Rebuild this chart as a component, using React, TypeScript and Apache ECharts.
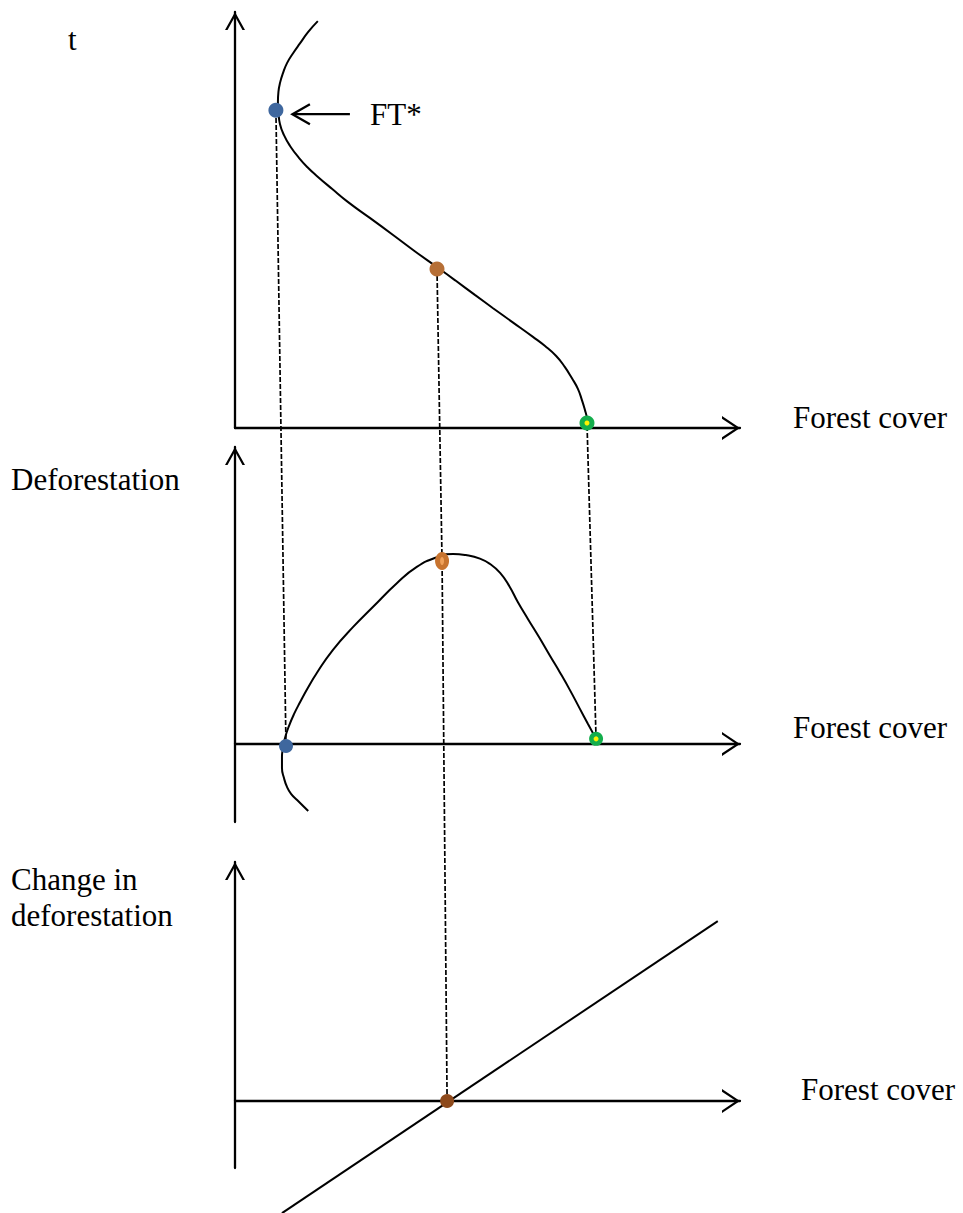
import { useEffect, useRef } from "react";
import * as echarts from "echarts";

// ---------- data ----------
// Panel 1: forest cover (x, 0..100) against time t (y, 0..100)
const timePathX = [16.4, 14.5, 12.9, 11.5, 10.3, 9.5, 8.9, 8.6, 8.5, 8.6, 8.9, 9.7, 10.9, 12.7, 14.5, 16.2, 19.2, 22.4, 26.7, 31.3, 35.6, 40.2, 43.6, 47.5, 51.1, 55.0, 59.0, 61.4, 63.6, 65.3, 66.7, 67.9, 68.7, 69.3, 69.7, 69.8];
const timePathT = [97.8, 95.2, 92.5, 90.1, 87.7, 85.3, 82.9, 80.8, 78.4, 76.0, 73.1, 70.4, 67.8, 64.9, 62.5, 60.6, 57.5, 54.3, 50.5, 46.4, 42.5, 38.5, 35.5, 32.0, 28.8, 25.4, 21.9, 19.7, 17.3, 14.7, 12.0, 9.4, 6.7, 4.3, 2.4, 1.0];

// Panel 2: deforestation against forest cover
const defoX = [14.5, 12.3, 11.1, 10.3, 9.7, 9.3, 9.3, 9.5, 9.9, 10.7, 11.7, 12.9, 14.3, 16.2, 19.4, 23.4, 27.3, 32.1, 36.0, 40.0, 43.2, 45.7, 48.5, 50.5, 52.5, 54.3, 56.0, 58.0, 60.2, 62.4, 64.4, 66.3, 68.3, 69.9, 71.5];
const defoY = [-22.6, -18.9, -16.8, -14.5, -11.5, -8.1, -4.4, -1.4, 2.0, 6.1, 10.1, 14.1, 18.5, 23.9, 31.7, 39.4, 46.1, 54.2, 59.6, 62.9, 64.0, 63.6, 62.4, 60.6, 57.6, 53.2, 47.8, 42.1, 36.0, 29.6, 23.9, 18.2, 11.8, 6.7, 1.7];

// Panel 3: change in deforestation against forest cover (a straight line)
const changeX = [9.3, 95.6];
const changeY = [-46.9, 75.3];

// Highlighted points
const ftStar = [8.1, 76.4]; // FT* on the time path
const p1Mid = [40.0, 38.2];
const p1End = [69.7, 1.2];
const p2Start = [10.1, -0.7];
const p2Peak = [41.0, 61.6];
const p2End = [71.5, 1.7];
const p3Cross = [42.0, 0];

// Texts
const xTitle = "Forest cover";
const yTitles = ["t", "Deforestation", "Change in", "deforestation"];
const ftLabel = "FT*";

// ---------- styling ----------
const FONT = '"Liberation Serif", "Times New Roman", serif';
const FS = 31;
const CHEV_X = "path://M12,0L24,18L21.36,18L12,3.96L2.64,18L0,18Z";
const CHEV_Y = "path://M10,0L20,18L17.48,18L10,4.54L2.52,18L0,18Z";
const BLUE = "#3F679E";
const ORANGE = "#B66F36";
const ORANGE2 = "#C8742F";
const GREEN = "#14AE4C";
const YELLOW = "#FFF200";
const BROWN = "#8E4A1C";

const grids = [
  { left: 235, top: 12, width: 505, height: 416, yMin: 0, yMax: 100 },
  { left: 235, top: 447, width: 505, height: 375, yMin: -26.3, yMax: 100 },
  { left: 235, top: 862, width: 505, height: 306, yMin: -28, yMax: 100 },
];

const zip = (a: number[], b: number[]) => a.map((v, i) => [v, b[i]]);

function buildOption(connectors: { grid: number; data: number[][] }[], ftPx: number[] | null) {
  const lineW = 2.3;
  const series: any[] = [];
  const curve = (data: number[][], gi: number, smooth: number | boolean) => ({
    type: "line",
    xAxisIndex: gi,
    yAxisIndex: gi,
    data,
    smooth,
    symbol: "none",
    clip: false,
    lineStyle: { color: "#000", width: 2 },
    z: 3,
  });
  series.push(curve(zip(timePathX, timePathT), 0, 0.5));
  series.push(curve(zip(defoX, defoY), 1, 0.5));
  series.push(curve(zip(changeX, changeY), 2, false));

  connectors.forEach((c) => {
    series.push({
      type: "line",
      xAxisIndex: c.grid,
      yAxisIndex: c.grid,
      data: c.data,
      symbol: "none",
      clip: false,
      lineStyle: { color: "#000", width: 1.7, type: [5, 2] },
      z: 2,
    });
  });

  const dot = (pt: number[], gi: number, color: string, size: number | number[], z = 5) => ({
    type: "scatter",
    xAxisIndex: gi,
    yAxisIndex: gi,
    data: [pt],
    symbol: "circle",
    symbolSize: size,
    clip: false,
    itemStyle: { color, opacity: 1 },
    z,
  });
  series.push(dot(ftStar, 0, BLUE, 15));
  series.push(dot(p1Mid, 0, ORANGE, 15));
  series.push(dot(p1End, 0, GREEN, 15));
  series.push(dot(p1End, 0, YELLOW, 5, 6));
  series.push(dot(p2Start, 1, BLUE, 14));
  series.push(dot(p2Peak, 1, ORANGE2, [14, 18]));
  series.push(dot(p2Peak, 1, "#F0A15A", [4, 8], 6));
  series.push(dot(p2End, 1, GREEN, 14));
  series.push(dot(p2End, 1, YELLOW, 5, 6));
  series.push(dot(p3Cross, 2, BROWN, 14));

  const text = (s: string, x: number, baseline: number) => ({
    type: "text",
    x,
    y: baseline - 0.3375 * FS,
    style: {
      text: s,
      fontSize: FS,
      fontFamily: FONT,
      fill: "#000",
      align: "left",
      verticalAlign: "middle",
      textAlign: "left",
      textVerticalAlign: "middle",
    },
  });

  const graphic: any[] = [
    text(yTitles[0], 68, 50),
    text(yTitles[1], 11, 490),
    text(yTitles[2], 11, 890),
    text(yTitles[3], 11, 926),
    text(xTitle, 793, 428),
    text(xTitle, 793, 738),
    text(xTitle, 801, 1100),
    text(ftLabel, 370, 125),
  ];
  if (ftPx) {
    const [fx, fy] = ftPx;
    graphic.push({
      type: "line",
      shape: { x1: fx + 17, y1: fy + 4, x2: fx + 74, y2: fy + 4 },
      style: { stroke: "#000", lineWidth: lineW },
    });
    graphic.push({
      type: "polyline",
      shape: { points: [[fx + 34, fy - 6], [fx + 16.5, fy + 4], [fx + 34, fy + 14]] },
      style: { stroke: "#000", lineWidth: lineW, fill: "none" },
    });
  }

  return {
    animation: false,
    backgroundColor: "#fff",
    grid: grids.map((g) => ({
      left: g.left,
      top: g.top,
      width: g.width,
      height: g.height,
      containLabel: false,
      outerBoundsMode: "none",
    })),
    xAxis: grids.map((_, i) => ({
      type: "value",
      gridIndex: i,
      min: 0,
      max: 100,
      axisLine: {
        show: true,
        onZero: true,
        symbol: ["none", CHEV_X],
        symbolSize: [24, 18],
        symbolOffset: [0, -9],
        lineStyle: { color: "#000", width: lineW },
      },
      axisTick: { show: false },
      axisLabel: { show: false },
      splitLine: { show: false },
    })),
    yAxis: grids.map((g, i) => ({
      type: "value",
      gridIndex: i,
      min: g.yMin,
      max: g.yMax,
      axisLine: {
        show: true,
        onZero: true,
        symbol: ["none", CHEV_Y],
        symbolSize: [20, 18],
        symbolOffset: [0, -9],
        lineStyle: { color: "#000", width: lineW },
      },
      axisTick: { show: false },
      axisLabel: { show: false },
      splitLine: { show: false },
    })),
    series,
    graphic,
  };
}

export default function App() {
  const ref = useRef<HTMLDivElement>(null);
  useEffect(() => {
    if (!ref.current) return;
    const chart = echarts.init(ref.current, null, { renderer: "svg" });
    chart.setOption(buildOption([], null));
    const move = (from: number, to: number, pt: number[]) =>
      chart.convertFromPixel(
        { gridIndex: to } as any,
        chart.convertToPixel({ gridIndex: from } as any, pt) as any
      ) as number[];
    const connectors = [
      { grid: 1, data: [p2Start, move(0, 1, ftStar)] },
      { grid: 1, data: [p2Peak, move(0, 1, p1Mid)] },
      { grid: 2, data: [p3Cross, move(1, 2, p2Peak)] },
      { grid: 1, data: [p2End, move(0, 1, p1End)] },
    ];
    const ftPx = chart.convertToPixel({ gridIndex: 0 } as any, ftStar) as number[];
    chart.setOption(buildOption(connectors, ftPx), true);
    return () => chart.dispose();
  }, []);
  return (
    <div
      ref={ref}
      style={{ position: "absolute", left: 0, top: 0, width: 963, height: 1213 }}
    />
  );
}
